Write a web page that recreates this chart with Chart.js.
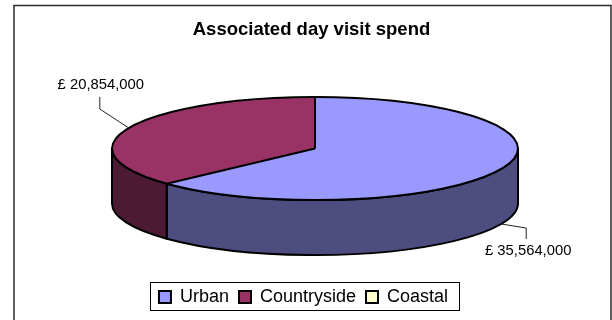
<!DOCTYPE html>
<html><head><meta charset="utf-8">
<script src="https://cdn.jsdelivr.net/npm/chart.js@4/dist/chart.umd.js"></script>
<style>html,body{margin:0;padding:0;background:#fff}canvas{display:block}</style>
</head><body><canvas id="c" width="612" height="320"></canvas>
<script>
const categories = ["Urban", "Countryside", "Coastal"];
const values = [35564000, 20854000, 0];
const topColors = ["#9999ff", "#993366", "#ffffcc"];
const sideColors = ["#4d4d80", "#4d1a33", "#808066"];
const labelTexts = ["£ 35,564,000", "£ 20,854,000", null];
const titleText = "Associated day visit spend";
const FONT = '"Liberation Sans", Arial, sans-serif';

const CY = 148.5, RY = 51.5, DEPTH = 55;
const LEADERS = [
  {elbow:[25,4], end:[25,15], text:[27,27]},
  {elbow:[-29,-19], end:[-29,-31], text:[-28,-43]}
];

function geom(chart){
  const a = chart.getDatasetMeta(0).data[0];
  const R = a.outerRadius;
  const rx = chart.chartArea.width/2;
  return {x:a.x, y:a.y, R, rx, sx:rx/R, sy:RY/R};
}
const pie3d = {
  id:'pie3d',
  beforeDraw(chart){
    const c = chart.ctx;
    c.save();
    c.fillStyle='#fff'; c.fillRect(0,0,chart.width,chart.height);
    c.strokeStyle='#2a2a2a'; c.lineWidth=1.5;
    c.strokeRect(14,5.5,597,340);
    c.fillStyle='#fff'; c.strokeStyle='#000'; c.lineWidth=1;
    c.fillRect(150.5,282.5,309,28); c.strokeRect(150.5,282.5,309,28);
    c.restore();
  },
  afterLayout(chart){
    const t = chart.titleBlock;
    t.left -= 3.5; t.right -= 3.5;
    const dt = 19 - t.top; t.top += dt; t.bottom += dt;
    const lg = chart.legend;
    lg.left -= 11.5; lg.right -= 11.5;
    const dy = 278 - lg.top; lg.top += dy; lg.bottom += dy;
  },
  beforeDatasetsDraw(chart){
    const c = chart.ctx, g = geom(chart), arcs = chart.getDatasetMeta(0).data;
    const cx = g.x;
    c.save();
    c.lineWidth = 2; c.strokeStyle = '#000'; c.lineJoin='round';
    arcs.forEach((a,i)=>{
      if(a.endAngle-a.startAngle<=0) return;
      [0,2*Math.PI].forEach(sh=>{
        const s = Math.max(a.startAngle,0+sh), e = Math.min(a.endAngle,Math.PI+sh);
        if(e<=s) return;
        c.beginPath();
        c.ellipse(cx,CY,g.rx,RY,0,s,e);
        c.ellipse(cx,CY+DEPTH,g.rx,RY,0,e,s,true);
        c.closePath();
        c.fillStyle = sideColors[i];
        c.fill(); c.stroke();
      });
    });
    c.restore();
    c.save();
    c.translate(cx,CY); c.scale(g.sx,g.sy); c.translate(-g.x,-g.y);
  },
  afterDatasetsDraw(chart){
    const c = chart.ctx, g = geom(chart), arcs = chart.getDatasetMeta(0).data;
    c.restore();
    const cx = g.x;
    c.save();
    c.lineWidth = 2; c.strokeStyle='#000'; c.lineJoin='round';
    c.beginPath(); c.ellipse(cx,CY,g.rx,RY,0,0,2*Math.PI); c.stroke();
    arcs.forEach(a=>{
      if(a.endAngle-a.startAngle<=0) return;
      c.beginPath(); c.moveTo(cx,CY);
      c.lineTo(cx+g.rx*Math.cos(a.startAngle),CY+RY*Math.sin(a.startAngle)); c.stroke();
    });
    c.lineWidth=1; c.strokeStyle='#222'; c.fillStyle='#000';
    c.font='14.8px '+FONT; c.textAlign='center'; c.textBaseline='middle';
    arcs.forEach((a,i)=>{
      if(!labelTexts[i]) return;
      const m=(a.startAngle+a.endAngle)/2, L=LEADERS[i];
      const ax=cx+g.rx*Math.cos(m);
      const ay=CY+RY*Math.sin(m)+(Math.sin(m)>0?DEPTH:0);
      c.beginPath(); c.moveTo(ax,ay);
      c.lineTo(ax+L.elbow[0],ay+L.elbow[1]);
      c.lineTo(ax+L.end[0],ay+L.end[1]); c.stroke();
      c.fillText(labelTexts[i],ax+L.text[0],ay+L.text[1]);
    });
    c.restore();
  }
};
new Chart(document.getElementById('c'),{
  type:'pie',
  data:{labels:categories,datasets:[{data:values,backgroundColor:topColors,borderWidth:0}]},
  plugins:[pie3d],
  options:{
    responsive:false,animation:false,
    layout:{padding:{left:112,right:94,top:14,bottom:6}},
    plugins:{
      tooltip:{enabled:false},
      title:{display:true,text:titleText,color:'#000',font:{family:FONT,size:18.5,weight:'bold'},padding:{top:0,bottom:6}},
      legend:{position:'bottom',labels:{
        color:'#000',font:{family:FONT,size:18},boxWidth:12,boxHeight:12,padding:10,
        generateLabels(ch){
          return Chart.overrides.pie.plugins.legend.labels.generateLabels(ch).map(l=>({...l,lineWidth:2,strokeStyle:'#000'}));
        }
      }}
    }
  }
});
</script></body></html>
